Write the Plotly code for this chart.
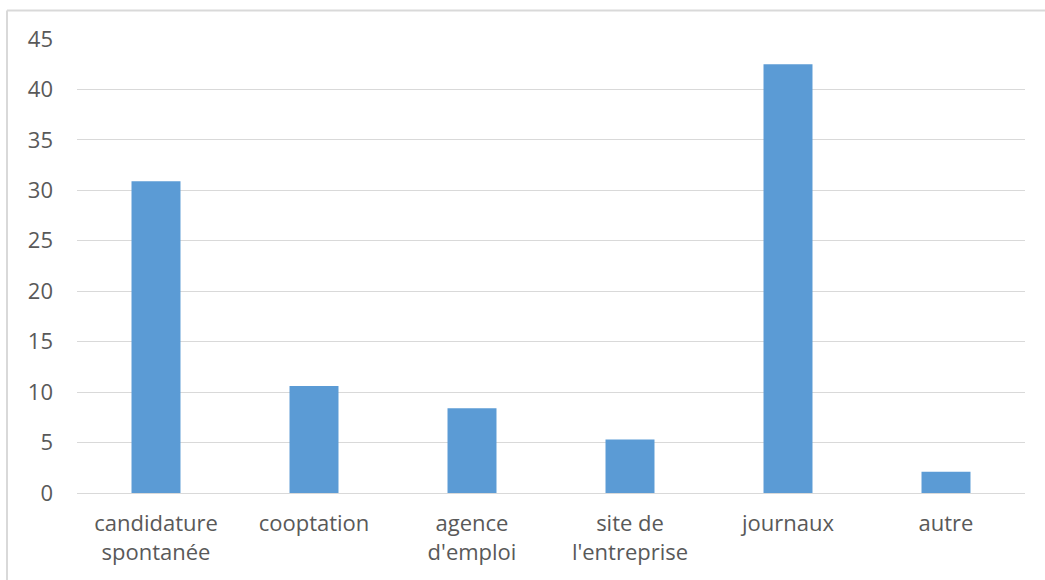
import plotly.graph_objects as go

categories = ["candidature<br>spontanée", "cooptation", "agence<br>d'emploi",
              "site de<br>l'entreprise", "journaux", "autre"]
values = [30.9, 10.6, 8.4, 5.3, 42.5, 2.1]
y_ticks = [0, 5, 10, 15, 20, 25, 30, 35, 40, 45]

W, H = 1045, 580
L, R, T, B = 77, 1025, 38.5, 493

fig = go.Figure(go.Bar(x=categories, y=values, marker=dict(color="#5b9bd5", line=dict(width=0))))

fig.update_layout(
    width=W, height=H,
    margin=dict(l=L, r=W - R, t=T, b=H - B, autoexpand=False),
    paper_bgcolor="white", plot_bgcolor="white",
    bargap=0.69,
    showlegend=False,
    font=dict(family="Open Sans", size=22, color="#595959"),
    xaxis=dict(showgrid=False, showline=True, linecolor="#d9d9d9", linewidth=1,
               ticks="", ticklabelstandoff=11,
               tickfont=dict(size=22, color="#595959")),
    yaxis=dict(range=[0, 45], tickvals=y_ticks, showgrid=True, gridcolor="#d9d9d9",
               gridwidth=1, zeroline=False, showline=False, ticks="",
               ticklabelstandoff=23,
               tickfont=dict(size=22, color="#595959")),
)

pw, ph = R - L, B - T
def px(x):
    return (x - L) / pw
def py(y):
    return (B - y) / ph

fig.add_shape(type="line", xref="paper", yref="paper",
              x0=px(7), x1=px(1045), y0=py(10), y1=py(10),
              line=dict(color="#d9d9d9", width=2))
fig.add_shape(type="line", xref="paper", yref="paper",
              x0=px(7), x1=px(7), y0=py(10), y1=py(580),
              line=dict(color="#d9d9d9", width=2))

fig.write_html("out.html")
